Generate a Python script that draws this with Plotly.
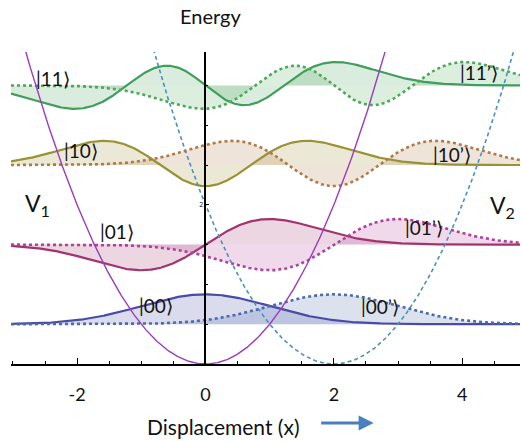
import numpy as np
import plotly.graph_objects as go

# ---- data ----
x_range = [-3.03, 4.9]
levels = [0.5, 1.5, 2.5, 3.5]            # energy levels (hbar*omega units)
quantum_n = [0, 1, 2, 3]                 # vibrational quantum number per level
centers = [0.0, 2.0]                     # well centres of V1 and V2
psi_scale = 0.5                          # wavefunction display scale
labels_left = ["|00⟩", "|01⟩", "|10⟩", "|11⟩"]
labels_right = ["|00’⟩", "|01’⟩", "|10’⟩", "|11’⟩"]
label_left_pos = [(-0.77, 0.73), (-1.38, 1.67), (-1.94, 2.68), (-2.38, 3.59)]
label_right_pos = [(2.72, 0.72), (3.4, 1.71), (3.84, 2.63), (4.26, 3.66)]
xticks = [-2, 0, 2, 4]
xtick_text = ["-2", "0", "2", "4"]
solid_colors = ["#4a4aa8", "#a2336f", "#9a9232", "#3f9e5c"]
dotted_colors = ["#4a6cac", "#b0409a", "#b07a48", "#4fa85a"]
fill_rgb = [(74, 74, 168), (162, 51, 111), (154, 146, 50), (63, 158, 92)]
fill_rgb_d = [(74, 108, 172), (176, 64, 154), (176, 122, 72), (79, 168, 90)]

x = np.linspace(x_range[0], x_range[1], 800)


def psi(n, u):
    g = np.pi ** -0.25 * np.exp(-u ** 2 / 2)
    if n == 0:
        return g
    if n == 1:
        return np.sqrt(2) * u * g
    if n == 2:
        return (2 * u ** 2 - 1) / np.sqrt(2) * g
    return (2 * u ** 3 - 3 * u) / np.sqrt(3) * g


fig = go.Figure()

for i, (E, n) in enumerate(zip(levels, quantum_n)):
    for k, c0 in enumerate(centers):
        y = E + psi_scale * psi(n, x - c0)
        rgb = fill_rgb[i] if k == 0 else fill_rgb_d[i]
        fig.add_trace(go.Scatter(x=x, y=np.full_like(x, E), mode="lines",
                                 line=dict(width=0), hoverinfo="skip", showlegend=False))
        fig.add_trace(go.Scatter(x=x, y=y, mode="lines", fill="tonexty",
                                 fillcolor="rgba(%d,%d,%d,0.2)" % rgb,
                                 line=dict(width=0), hoverinfo="skip", showlegend=False))

for i, (E, n) in enumerate(zip(levels, quantum_n)):
    for k, c0 in enumerate(centers):
        y = E + psi_scale * psi(n, x - c0)
        if k == 0:
            ln = dict(color=solid_colors[i], width=2.2)
        else:
            ln = dict(color=dotted_colors[i], width=2.6, dash="dot")
        fig.add_trace(go.Scatter(x=x, y=y, mode="lines", line=ln, showlegend=False))

# potentials
fig.add_trace(go.Scatter(x=x, y=0.5 * (x - centers[0]) ** 2, mode="lines",
                         line=dict(color="#9a3cbc", width=1.4), showlegend=False))
fig.add_trace(go.Scatter(x=x, y=0.5 * (x - centers[1]) ** 2, mode="lines",
                         line=dict(color="#4a90c0", width=1.6, dash="4px,3px"), showlegend=False))

font = "Lato, 'Open Sans', sans-serif"
ann = []
for t, (px, py) in zip(labels_left, label_left_pos):
    ann.append(dict(x=px, y=py, text=t, showarrow=False, font=dict(size=19, color="#111", family=font)))
for t, (px, py) in zip(labels_right, label_right_pos):
    ann.append(dict(x=px, y=py, text=t, showarrow=False, font=dict(size=19, color="#111", family=font)))
ann.append(dict(x=-2.62, y=2.0, text="V<sub>1</sub>", showarrow=False,
                font=dict(size=23, color="#111", family=font)))
ann.append(dict(x=4.63, y=1.98, text="V<sub>2</sub>", showarrow=False,
                font=dict(size=23, color="#111", family=font)))
ann.append(dict(x=0.08, xref="x", y=1.0, yref="paper", yshift=36, text="Energy", showarrow=False,
                yanchor="middle", font=dict(size=20, color="#111", family=font)))
ann.append(dict(x=0.28, xref="x", y=0, yref="paper", yshift=-62, text="Displacement (x)",
                showarrow=False, yanchor="middle", font=dict(size=21, color="#111", family=font)))
ann.append(dict(x=2.62, xref="x", y=0, yref="paper", yshift=-59, ax=-54, ay=0, text="",
                showarrow=True, arrowhead=2, arrowsize=1, arrowwidth=3, arrowcolor="#4a7fc0"))

fig.update_layout(
    width=522, height=441,
    margin=dict(l=11, r=2, t=52, b=77),
    paper_bgcolor="white", plot_bgcolor="white",
    annotations=ann,
    xaxis=dict(range=x_range, showgrid=False, zeroline=False, showline=True,
               linecolor="black", linewidth=1.5, ticks="inside", ticklen=6,
               tickcolor="black", tickvals=xticks, ticktext=xtick_text, ticklabelstandoff=14,
               tickfont=dict(size=18, color="#111", family=font),
               minor=dict(dtick=0.5, ticks="inside", ticklen=3, tickcolor="black", showgrid=False)),
    yaxis=dict(range=[0, 3.92], showgrid=False, zeroline=False, showline=True,
               anchor="free", position=0.3821, linecolor="black", linewidth=1.5,
               ticks="inside", ticklen=3, tickcolor="black", tickvals=[2], ticktext=["2"],
               tickfont=dict(size=7, color="#111"),
               minor=dict(dtick=0.5, ticks="inside", ticklen=2, tickcolor="black", showgrid=False)),
)

fig.write_html("out.html", config={"displayModeBar": False},
               post_script="document.body.style.margin='0';document.body.style.overflow='hidden';")
